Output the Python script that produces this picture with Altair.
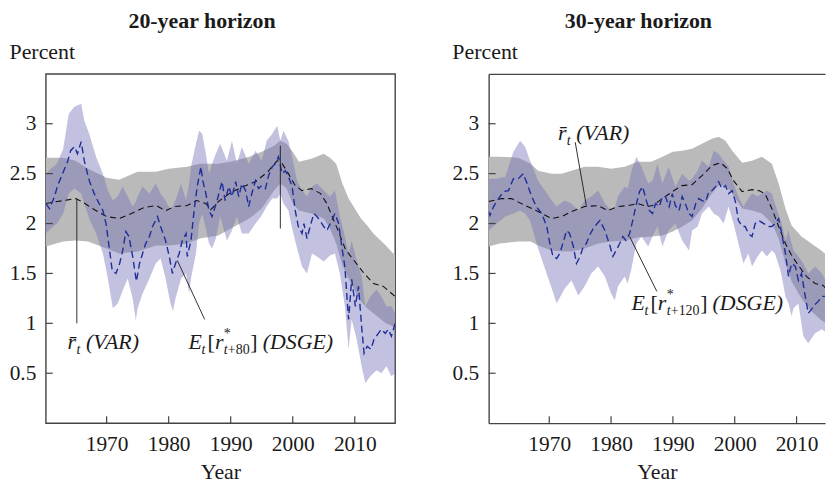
import altair as alt
import pandas as pd

FONT = "Liberation Serif"

X_TICKS = [1970, 1980, 1990, 2000, 2010]
Y_TICKS = [0.5, 1, 1.5, 2, 2.5, 3]

# ---------------- 20-year horizon ----------------
L_VAR_YEARS = [1960.2, 1962, 1964, 1965, 1966, 1968, 1970, 1972, 1974, 1976, 1978, 1979.5, 1981, 1983,
               1984.5, 1986, 1986.8, 1988, 1990, 1992, 1994, 1996, 1997.5, 1998.3, 1999.3, 2000.4, 2001.5,
               2003, 2004.5, 2005.5, 2006.5, 2007.5, 2008.5, 2010, 2011.5, 2013, 2014.6, 2016.5]
L_VAR = [2.2, 2.22, 2.24, 2.25, 2.22, 2.14, 2.07, 2.05, 2.1, 2.16, 2.18, 2.13, 2.17, 2.18,
         2.23, 2.2, 2.14, 2.22, 2.31, 2.37, 2.42, 2.52, 2.63, 2.6, 2.5, 2.38, 2.33,
         2.35, 2.3, 2.2, 2.05, 1.9, 1.74, 1.62, 1.5, 1.4, 1.37, 1.27]

L_VB_YEARS = [1960.2, 1963, 1965, 1967, 1970, 1972, 1975, 1978, 1980, 1983, 1985, 1988, 1990, 1993, 1995,
              1997, 1998, 1999, 2000, 2001, 2003, 2005, 2006, 2007, 2008, 2009, 2010, 2011, 2012, 2013,
              2014, 2015, 2016.5]
L_VB_HI = [2.66, 2.66, 2.63, 2.55, 2.46, 2.44, 2.52, 2.52, 2.55, 2.57, 2.6, 2.6, 2.62, 2.67, 2.72,
           2.78, 2.83, 2.8, 2.72, 2.62, 2.65, 2.7, 2.66, 2.6, 2.4, 2.25, 2.15, 2.05, 1.98, 1.9,
           1.84, 1.78, 1.68]
L_VB_LO = [1.77, 1.82, 1.83, 1.82, 1.75, 1.7, 1.72, 1.78, 1.78, 1.8, 1.85, 1.88, 1.95, 2.05, 2.15,
           2.33, 2.4, 2.35, 2.2, 2.13, 2.1, 2.05, 1.95, 1.8, 1.58, 1.45, 1.33, 1.22, 1.15, 1.1,
           1.05, 1.0, 0.96]

L_DB_YEARS = [1960.2, 1961, 1962, 1963, 1963.9, 1964.8, 1965.9, 1966.4, 1967.2, 1968.3, 1969.4, 1970.2,
              1971, 1971.8, 1972.6, 1973.4, 1974.2, 1974.7, 1975, 1975.8, 1976.9, 1977.9, 1978.7, 1979.5,
              1980.3, 1980.7, 1981.1, 1982, 1982.8, 1983.3, 1983.6, 1984.4, 1984.9, 1985.4, 1986, 1986.5,
              1987, 1987.6, 1988.3, 1989.4, 1990.2, 1991, 1991.8, 1992.9, 1994, 1995, 1995.8, 1996.7,
              1997.5, 1998, 1998.5, 1999.3, 1999.9, 2000.7, 2001.5, 2002.3, 2003.1, 2003.9, 2005, 2006,
              2006.8, 2007.6, 2008.4, 2009, 2009.5, 2010.3, 2011.1, 2011.7, 2012.5, 2013.5, 2014.3,
              2015.1, 2015.9, 2016.5]
L_DB_HI = [2.5, 2.55, 2.6, 2.75, 3.1, 3.17, 3.2, 3.03, 2.9, 2.67, 2.5, 2.33,
           2.23, 2.27, 2.37, 2.27, 2.17, 2.22, 2.27, 2.37, 2.3, 2.4, 2.3, 2.23,
           2.13, 2.18, 2.23, 2.4, 2.23, 2.4, 2.57, 2.8, 2.93, 2.9, 2.7, 2.5,
           2.6, 2.7, 2.8, 2.63, 2.83, 2.6, 2.77, 2.6, 2.73, 2.63, 2.83, 2.9,
           2.98, 2.83, 2.93, 2.83, 2.67, 2.43, 2.33, 2.27, 2.37, 2.4, 2.33, 2.27,
           2.33, 2.07, 1.87, 1.7, 1.83, 1.63, 1.47, 1.17, 1.27, 1.34, 1.27,
           1.17, 1.17, 1.1]
L_DB_LO = [1.9, 1.95, 2.0, 2.1, 2.3, 2.35, 2.3, 2.2, 2.05, 1.9, 1.7, 1.45,
           1.15, 1.2, 1.33, 1.45, 1.25, 1.03, 1.15, 1.3, 1.45, 1.6, 1.65, 1.45,
           1.2, 1.12, 1.25, 1.45, 1.5, 1.3, 1.45, 1.7, 2.0, 2.1, 1.95, 1.8,
           1.75, 1.85, 2.07, 1.83, 1.93, 2.07, 1.9, 1.9, 2.0, 2.08, 2.17, 2.25,
           2.25, 2.3, 2.2, 2.13, 1.95, 1.75, 1.57, 1.5, 1.7, 1.67, 1.62, 1.68,
           1.7, 1.5, 1.17, 0.74, 1.04, 0.84, 0.57, 0.4, 0.47, 0.53, 0.5,
           0.57, 0.47, 0.5]

L_DSGE_YEARS = [1960.2, 1960.8, 1961.6, 1962.1, 1962.9, 1963.7, 1964.2, 1964.8, 1965.3, 1965.9, 1966.4,
                1967.2, 1968.0, 1968.8, 1969.4, 1969.9, 1970.4, 1970.9, 1971.5, 1972.1, 1972.6, 1973.1,
                1973.6, 1974.2, 1974.8, 1975.3, 1975.8, 1976.3, 1976.9, 1977.4, 1978.2, 1978.7, 1979.5,
                1980.1, 1980.6, 1981.1, 1981.7, 1982.2, 1982.8, 1983.0, 1983.6, 1984.1, 1984.6, 1985.2,
                1985.5, 1986.0, 1986.5, 1987.0, 1987.8, 1988.6, 1989.1, 1989.7, 1990.2, 1990.8, 1991.3,
                1991.8, 1992.4, 1992.9, 1993.4, 1994.0, 1994.5, 1995.0, 1995.6, 1996.1, 1996.7, 1997.2,
                1997.7, 1998.3, 1998.8, 1999.3, 1999.9, 2000.4, 2000.9, 2001.5, 2001.8, 2002.3, 2002.8,
                2003.4, 2003.9, 2004.4, 2005.0, 2005.5, 2006.3, 2006.8, 2007.4, 2007.9, 2008.4, 2008.7,
                2009.0, 2009.5, 2010.1, 2010.6, 2011.1, 2011.5, 2012.0, 2012.6, 2013.1, 2013.8, 2014.3,
                2014.9, 2015.4, 2015.9, 2016.5]
L_DSGE = [2.2, 2.15, 2.27, 2.38, 2.5, 2.62, 2.73, 2.77, 2.7, 2.82, 2.63,
          2.43, 2.3, 2.2, 2.13, 2.0, 1.77, 1.53, 1.5, 1.6, 1.73, 1.92,
          1.87, 1.67, 1.42, 1.6, 1.7, 1.8, 1.87, 1.97, 2.07, 1.97, 1.83,
          1.67, 1.5, 1.6, 1.7, 1.83, 1.9, 1.67, 1.83, 2.13, 2.37, 2.57,
          2.43, 2.3, 2.13, 2.07, 2.23, 2.42, 2.23, 2.37, 2.27, 2.42, 2.27,
          2.4, 2.33, 2.17, 2.3, 2.43, 2.35, 2.38, 2.35, 2.48, 2.57, 2.6,
          2.67, 2.5, 2.53, 2.47, 2.37, 2.13, 1.97, 1.9, 2.0, 1.85, 1.97,
          2.1, 2.07, 2.03, 1.97, 1.93, 2.03, 2.1, 2.0, 1.77, 1.57, 1.3,
          1.04, 1.44, 1.17, 1.37, 0.97, 0.7, 0.77, 0.74, 0.84, 0.9, 0.94,
          0.9, 0.94, 0.87, 1.0]

# annotation anchors (year, percent)
L_VAR_LABEL = (1963.7, 0.74)
L_VAR_LEADER = (1965.2, 2.25, 1965.2, 1.0)
L_DSGE_LABEL = (1983.2, 0.74)
L_DSGE_LEADER = (1981.4, 1.63, 1985.8, 1.04)
L_MARK_LINE = (1998.0, 2.78, 1998.0, 1.95)

# ---------------- 30-year horizon ----------------
R_VAR_YEARS = [1960.2, 1962.3, 1963.9, 1966.1, 1968.2, 1970.4, 1972, 1973.6, 1975.7, 1977.9, 1979.5, 1981.1,
               1982.7, 1984.3, 1985.9, 1986.7, 1988.3, 1989.9, 1991.5, 1993.1, 1994.7, 1996.3, 1997.7,
               1998.8, 1999.8, 2001.2, 2002.8, 2003.9, 2004.9, 2006, 2007.1, 2008.2, 2009.2, 2010.3,
               2011.6, 2013, 2014.3, 2015.7, 2016.5]
R_VAR = [2.22, 2.25, 2.25, 2.18, 2.12, 2.05, 2.07, 2.12, 2.17, 2.18, 2.13, 2.17,
         2.18, 2.2, 2.17, 2.18, 2.25, 2.32, 2.38, 2.39, 2.48, 2.58, 2.61,
         2.55, 2.43, 2.32, 2.34, 2.33, 2.3, 2.15, 1.97, 1.8, 1.68, 1.58,
         1.47, 1.4, 1.38, 1.28, 1.25]

R_VB_YEARS = [1960.2, 1962, 1965, 1967, 1968.2, 1970.4, 1972, 1973.6, 1975.7, 1977.9, 1980, 1982.2, 1984.3,
              1986.5, 1988.3, 1990, 1991.5, 1993.1, 1994.7, 1996.3, 1997.4, 1998.5, 1999.6, 2001.2, 2002.8,
              2004.4, 2006, 2007.1, 2008.2, 2009.2, 2010.8, 2012.4, 2014, 2015.7, 2016.5]
R_VB_HI = [2.67, 2.67, 2.66, 2.6, 2.53, 2.5, 2.5, 2.53, 2.57, 2.57, 2.55, 2.57, 2.62,
           2.62, 2.67, 2.72, 2.73, 2.75, 2.8, 2.85, 2.87, 2.83, 2.73, 2.61, 2.63,
           2.67, 2.6, 2.4, 2.15, 1.98, 1.87, 1.8, 1.73, 1.64, 1.6]
R_VB_LO = [1.77, 1.8, 1.82, 1.82, 1.78, 1.73, 1.72, 1.72, 1.75, 1.8, 1.82, 1.83, 1.86,
           1.87, 1.88, 1.92, 1.97, 2.03, 2.15, 2.3, 2.38, 2.38, 2.3, 2.15, 2.13,
           2.1, 2.0, 1.85, 1.6, 1.42, 1.25, 1.12, 1.03, 0.97, 0.95]

R_DB_YEARS = [1960.2, 1961.5, 1962.9, 1964.2, 1965.3, 1966.1, 1966.9, 1968.2, 1969.3, 1970.4, 1971.2,
              1972.5, 1973.6, 1974.7, 1975.7, 1976.8, 1977.9, 1979, 1980, 1980.6, 1981.1, 1982.2, 1982.7,
              1983.3, 1984.1, 1984.9, 1986, 1986.7, 1987.5, 1988.3, 1989.3, 1990.4, 1991.5, 1992.6,
              1993.1, 1994, 1994.7, 1995.8, 1996.6, 1997.4, 1998.2, 1999, 1999.8, 2000.6, 2001.4,
              2002.2, 2002.8, 2003.7, 2004.4, 2005.2, 2006, 2006.5, 2007.3, 2007.6, 2008.2, 2008.7,
              2009.2, 2009.5, 2010.3, 2011.1, 2011.9, 2013, 2014.1, 2014.9, 2015.7, 2016.5]
R_DB_HI = [2.45, 2.45, 2.47, 2.72, 2.83, 2.77, 2.63, 2.43, 2.33, 2.23, 2.17,
           2.23, 2.2, 2.13, 2.23, 2.27, 2.33, 2.2, 2.13, 2.15, 2.27, 2.37, 2.35,
           2.53, 2.67, 2.57, 2.4, 2.43, 2.6, 2.4, 2.57, 2.37, 2.5, 2.43,
           2.45, 2.53, 2.63, 2.57, 2.73, 2.7, 2.63, 2.57, 2.4, 2.27, 2.17,
           2.25, 2.3, 2.27, 2.3, 2.33, 2.3, 2.2, 2.05, 2.0, 1.83, 1.93,
           1.8, 1.73, 1.67, 1.6, 1.5, 1.57, 1.5, 1.4, 1.37, 1.35]
R_DB_LO = [1.93, 2.0, 2.07, 2.1, 2.13, 2.1, 2.03, 1.75, 1.55, 1.35, 1.2,
           1.35, 1.43, 1.28, 1.37, 1.5, 1.57, 1.47, 1.3, 1.23, 1.37, 1.47, 1.4,
           1.55, 1.8, 1.87, 1.77, 1.87, 1.97, 1.77, 1.93, 2.0, 1.83, 1.73,
           1.93, 1.97, 2.1, 2.17, 2.1, 2.07, 2.0, 2.17, 2.0, 1.8, 1.6,
           1.7, 1.57, 1.67, 1.73, 1.67, 1.73, 1.7, 1.55, 1.47, 1.27, 1.2,
           1.07, 1.15, 1.2, 0.87, 0.8, 0.9, 0.94, 0.9, 0.9, 0.9]

R_DSGE_YEARS = [1960.2, 1960.4, 1961.0, 1961.8, 1962.6, 1963.4, 1964.2, 1965.0, 1965.8, 1966.3, 1967.1,
                1967.9, 1968.8, 1969.6, 1970.1, 1970.6, 1971.2, 1971.7, 1972.2, 1972.8, 1973.3, 1973.9,
                1974.4, 1975.0, 1975.5, 1976.0, 1976.5, 1977.3, 1978.2, 1979.0, 1979.8, 1980.3, 1980.8,
                1981.4, 1981.9, 1982.4, 1983.0, 1983.5, 1984.1, 1984.6, 1985.1, 1985.7, 1986.2, 1986.7,
                1987.2, 1987.8, 1988.3, 1988.8, 1989.4, 1989.9, 1990.4, 1991.0, 1991.5, 1992.0, 1992.6,
                1993.1, 1993.7, 1994.2, 1994.7, 1995.3, 1995.8, 1996.3, 1996.9, 1997.4, 1997.9, 1998.5,
                1999.0, 1999.6, 2000.1, 2000.6, 2001.2, 2001.7, 2002.2, 2002.8, 2003.3, 2003.9, 2004.7,
                2005.5, 2006.0, 2006.5, 2007.1, 2007.6, 2008.2, 2008.7, 2009.2, 2009.8, 2010.3, 2010.8,
                2011.4, 2011.9, 2012.4, 2013.0, 2013.5, 2014.1, 2014.6, 2015.1, 2015.7, 2016.5]
R_DSGE = [2.12, 2.08, 2.17, 2.25, 2.32, 2.33, 2.45, 2.45, 2.5, 2.42, 2.28,
          2.17, 2.1, 1.97, 1.8, 1.67, 1.65, 1.7, 1.8, 1.93, 1.9, 1.77,
          1.6, 1.67, 1.77, 1.8, 1.88, 1.97, 2.03, 1.93, 1.78, 1.67, 1.73,
          1.8, 1.87, 1.83, 1.9, 2.03, 2.2, 2.32, 2.37, 2.23, 2.13, 2.1,
          2.2, 2.17, 2.27, 2.27, 2.17, 2.3, 2.18, 2.13, 2.27, 2.2, 2.1,
          2.07, 2.2, 2.25, 2.23, 2.22, 2.32, 2.33, 2.37, 2.42, 2.35, 2.38,
          2.3, 2.33, 2.22, 2.03, 1.97, 1.97, 1.9, 1.87, 2.0, 2.03, 2.0,
          1.97, 1.97, 2.0, 2.05, 1.9, 1.7, 1.47, 1.6, 1.57, 1.43, 1.5,
          1.27, 1.1, 1.14, 1.19, 1.22, 1.27, 1.27, 1.25, 1.2, 1.22]

R_VAR_LABEL = (1971.4, 2.84)
R_VAR_LEADER = (1974.2, 2.815, 1976.0, 2.18)
R_DSGE_LABEL = (1983.3, 1.13)
R_DSGE_LEADER = (1983.0, 1.87, 1987.4, 1.32)

INK = "#1a1a1a"
AXIS_INK = "#444444"


def seg_df(seg):
    return pd.DataFrame({"year": [seg[0]], "value": [seg[1]], "year2": [seg[2]], "value2": [seg[3]]})


def pt_df(p):
    return pd.DataFrame({"year": [p[0]], "value": [p[1]]})


def panel(title, var_y, var_v, vb_y, vb_lo, vb_hi, db_y, db_lo, db_hi, d_y, d_v,
          var_lab, var_lead, dsge_lab, dsge_lead, dsge_sub, extra_lines, x_end, width, open_right):
    # in the open (right) panel the x axes are resolved independently,
    # so every layer except the first must switch its own x axis off
    def sx(field="year:Q"):
        return alt.X(field, axis=None) if open_right else alt.X(field)

    def piece(p, text, dx, dy=0, size=22, style="italic"):
        return alt.Chart(pt_df(p)).mark_text(
            text=text, font=FONT, fontSize=size, fontStyle=style, align="left",
            baseline="alphabetic", dx=dx, dy=dy, color=INK,
        ).encode(x=sx(), y="value:Q")

    def var_label(p):
        return [
            piece(p, "r\u0304", 0),
            piece(p, "t", 9, 5, 14),
            piece(p, "(VAR)", 18.5),
        ]

    def dsge_label(p, sub):
        sub_end = 39.5 + 8 + 7 * len(sub)
        return [
            piece(p, "E", 0),
            piece(p, "t", 13, 5, 14),
            piece(p, "[", 19, 0, 22, "normal"),
            piece(p, "r", 26.5),
            piece(p, "*", 35.5, -11, 14, "normal"),
            piece(p, "t", 35.5, 5, 14),
            piece(p, "+" + sub, 39.5, 5, 14, "normal"),
            piece(p, "]", sub_end + 0.5, 0, 22, "normal"),
            piece(p, "(DSGE)", sub_end + 13),
        ]

    xs = alt.Scale(domain=[1960.2, x_end], nice=False, zero=False)
    ys = alt.Scale(domain=[0, 3.5], nice=False, zero=False)
    xaxis = alt.Axis(values=X_TICKS, format="d", ticks=False, domain=open_right, domainColor=AXIS_INK,
                     domainWidth=1.4, labelPadding=11, title="Year", titlePadding=6, grid=False)
    yaxis = alt.Axis(values=Y_TICKS, format="~g", ticks=False, domain=open_right, domainColor=AXIS_INK,
                     domainWidth=1.4, labelPadding=10, title="Percent", titleAngle=0, titleAlign="left",
                     titleBaseline="alphabetic", titleX=-37, titleY=-15, grid=False)

    gray = alt.Chart(pd.DataFrame({"year": vb_y, "lo": vb_lo, "hi": vb_hi})).mark_area(
        color="#bababa", clip=True
    ).encode(x=alt.X("year:Q", scale=xs, axis=xaxis), y=alt.Y("lo:Q", scale=ys, axis=yaxis), y2="hi:Q")

    purple = alt.Chart(pd.DataFrame({"year": db_y, "lo": db_lo, "hi": db_hi})).mark_area(
        color="#7470b8", opacity=0.43, clip=True
    ).encode(x=sx(), y="lo:Q", y2="hi:Q")

    varline = alt.Chart(pd.DataFrame({"year": var_y, "value": var_v})).mark_line(
        color="#111111", strokeWidth=1.1, strokeDash=[6, 4], clip=True
    ).encode(x=sx(), y="value:Q")

    dsge = alt.Chart(pd.DataFrame({"year": d_y, "value": d_v})).mark_line(
        color="#1f2f99", strokeWidth=1.4, strokeDash=[7, 4], clip=True
    ).encode(x=sx(), y="value:Q")

    if open_right:
        top_axis = alt.Axis(orient="top", labels=False, ticks=False, domain=True, domainColor=AXIS_INK,
                            domainWidth=1.4, title=None, grid=False)
        xt_x = alt.X("year:Q", axis=top_axis)
    else:
        xt_x = alt.X("year:Q")
    xticks = alt.Chart(pd.DataFrame({"year": X_TICKS})).mark_rule(color=AXIS_INK, strokeWidth=1.2).encode(
        x=xt_x, y=alt.value(351), y2=alt.value(344))
    yticks = alt.Chart(pd.DataFrame({"value": Y_TICKS})).mark_rule(color=AXIS_INK, strokeWidth=1.2).encode(
        y="value:Q", x=alt.value(0), x2=alt.value(7))

    leaders = []
    for seg in [var_lead, dsge_lead] + extra_lines:
        leaders.append(alt.Chart(seg_df(seg)).mark_rule(color=INK, strokeWidth=0.9).encode(
            x=sx(), y="value:Q", x2="year2:Q", y2="value2:Q"))

    layers = [gray, purple, varline, dsge, xticks, yticks] + leaders + var_label(var_lab) + dsge_label(dsge_lab, dsge_sub)
    ch = alt.layer(*layers).properties(
        width=width, height=351,
        title=alt.TitleParams(title, font=FONT, fontSize=22, fontWeight="bold", anchor="middle",
                              frame="bounds", offset=8, color=INK),
    )
    if open_right:
        ch = ch.resolve_axis(x="independent").properties(view=alt.ViewBackground(stroke="transparent"))
    else:
        ch = ch.properties(view=alt.ViewBackground(stroke=AXIS_INK, strokeWidth=1.4))
    return ch


left = panel("20-year horizon", L_VAR_YEARS, L_VAR, L_VB_YEARS, L_VB_LO, L_VB_HI,
             L_DB_YEARS, L_DB_LO, L_DB_HI, L_DSGE_YEARS, L_DSGE,
             L_VAR_LABEL, L_VAR_LEADER, L_DSGE_LABEL, L_DSGE_LEADER, "80", [L_MARK_LINE],
             2016.5, 351, False)
right = panel("30-year horizon", R_VAR_YEARS, R_VAR, R_VB_YEARS, R_VB_LO, R_VB_HI,
              R_DB_YEARS, R_DB_LO, R_DB_HI, R_DSGE_YEARS, R_DSGE,
              R_VAR_LABEL, R_VAR_LEADER, R_DSGE_LABEL, R_DSGE_LEADER, "120", [],
              2014.6, 338, True)

chart = alt.hconcat(left, right, spacing=55).properties(
    padding={"left": 0, "top": 0, "right": 0, "bottom": 0},
    background="white",
).configure_axis(
    labelFont=FONT, labelFontSize=21.5, labelColor=INK,
    titleFont=FONT, titleFontSize=22, titleColor=INK, titleFontWeight="normal",
).configure_view(stroke="transparent")

chart.save("out.html", embed_options={"renderer": "svg", "actions": False})
